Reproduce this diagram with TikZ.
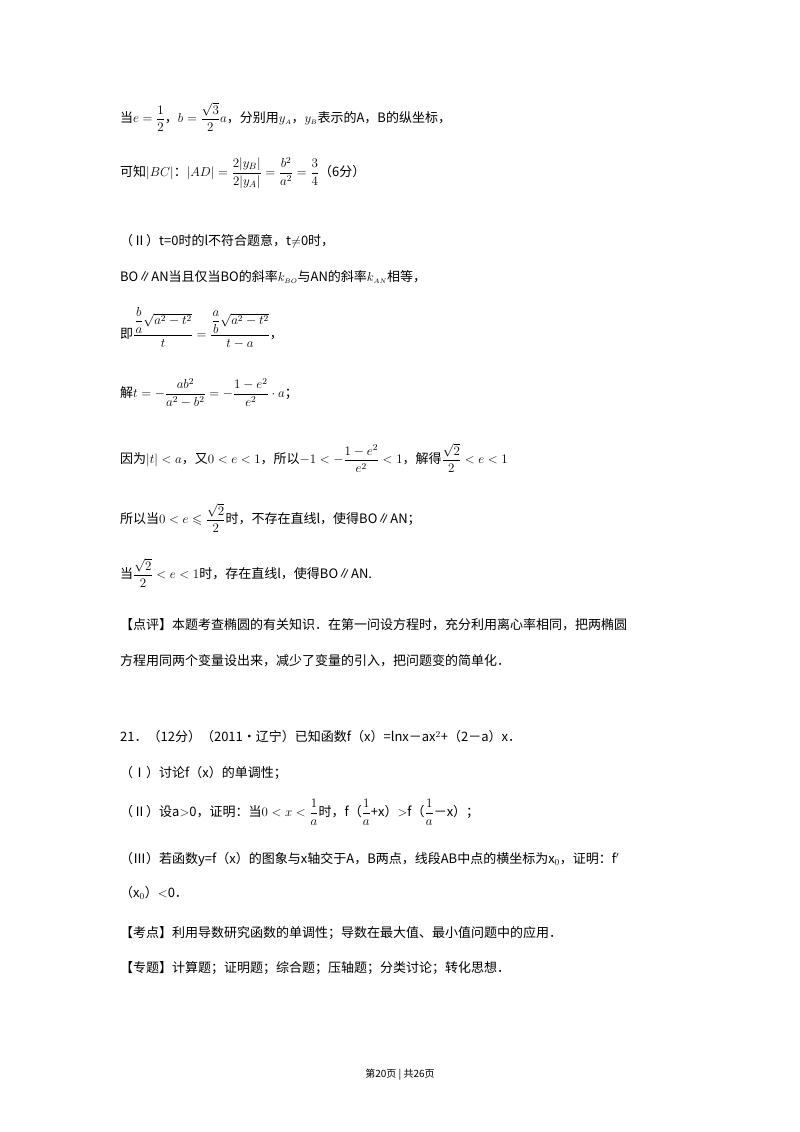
\documentclass[tikz,border=0pt]{standalone}
\usepackage{fix-cm}
\usepackage{amsmath,amssymb}
\usepackage{fontspec}
\setmainfont{Noto Sans CJK SC}
\begin{document}
\begin{tikzpicture}[x=1pt,y=-1pt,
  ln/.style={anchor=west,inner sep=0pt,font=\fontsize{13}{15}\selectfont}]
\useasboundingbox (0,0) rectangle (800,1132);
\fill[white] (0,0) rectangle (800,1132);
\node[ln] (l1) at (120,117) {当$e=\dfrac{1}{2}$，$b=\dfrac{\sqrt3}{2}a$，分别用$y_{\scriptscriptstyle A}$，$y_{\scriptscriptstyle B}$表示的A，B的纵坐标，};
\node[ln] (l2) at (120,173) {可知$|BC|$：$|AD|=\dfrac{2|y_B|}{2|y_A|}=\dfrac{b^2}{a^2}=\dfrac34$（6分）};
\node[ln] (l3) at (120,241) {（Ⅱ）t=0时的l不符合题意，t$\neq$0时，};
\node[ln] (l4) at (120,277) {BO∥AN当且仅当BO的斜率$k_{\scriptscriptstyle BO}$与AN的斜率$k_{\scriptscriptstyle AN}$相等，};
\node[ln] (l5) at (120,328) {即$\dfrac{\dfrac{b}{a}\sqrt{a^2-t^2}}{t}=\dfrac{\dfrac{a}{b}\sqrt{a^2-t^2}}{t-a}$，};
\node[ln] (l6) at (120,393) {解$t=-\dfrac{ab^2}{a^2-b^2}=-\dfrac{1-e^2}{e^2}\cdot a$；};
\node[ln] (l7) at (120,458) {因为$|t|<a$，又$0<e<1$，所以$-1<-\dfrac{1-e^2}{e^2}<1$，解得$\dfrac{\sqrt2}{2}<e<1$};
\node[ln] (l8) at (120,518) {所以当$0<e\leqslant\dfrac{\sqrt2}{2}$时，不存在直线l，使得BO∥AN；};
\node[ln] (l9) at (120,573) {当$\dfrac{\sqrt2}{2}<e<1$时，存在直线l，使得BO∥AN.};
\node[ln] (l10) at (120,625) {【点评】本题考查椭圆的有关知识．在第一问设方程时，充分利用离心率相同，把两椭圆};
\node[ln] (l11) at (120,661) {方程用同两个变量设出来，减少了变量的引入，把问题变的简单化．};
\node[ln] (l12) at (120,737) {21．（12分）（2011•辽宁）已知函数f（x）=lnx－ax$^2$+（2－a）x．};
\node[ln] (l13) at (120,773) {（Ⅰ）讨论f（x）的单调性；};
\node[ln] (l14) at (120,812) {（Ⅱ）设a$>$0，证明：当$0<x<\dfrac1a$时，f（$\dfrac1a$+x）$>$f（$\dfrac1a$－x）；};
\node[ln] (l15) at (120,859) {（Ⅲ）若函数y=f（x）的图象与x轴交于A，B两点，线段AB中点的横坐标为x$_0$，证明：f$'$};
\node[ln] (l16) at (120,893) {（x$_0$）$<$0．};
\node[ln] (l17) at (120,933) {【考点】利用导数研究函数的单调性；导数在最大值、最小值问题中的应用．};
\node[ln] (l18) at (120,968) {【专题】计算题；证明题；综合题；压轴题；分类讨论；转化思想．};
\node[anchor=center,inner sep=0pt,font=\fontsize{10}{12}\selectfont] (ft) at (400,1075) {第20页 | 共26页};
\end{tikzpicture}
\end{document}
